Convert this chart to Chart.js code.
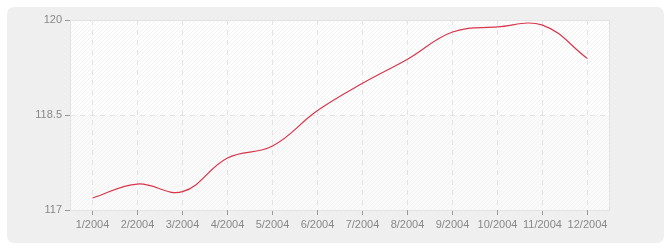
<!DOCTYPE html>
<html>
<head>
<meta charset="utf-8">
<script src="https://cdn.jsdelivr.net/npm/chart.js@4.4.0/dist/chart.umd.min.js"></script>
<style>
  html, body { margin: 0; padding: 0; background: #fff; }
  #wrap { width: 670px; height: 250px; position: relative; }
</style>
</head>
<body>
<div id="wrap"><canvas id="chart" width="670" height="250"></canvas></div>
<script>
const months = ["1/2004", "2/2004", "3/2004", "4/2004", "5/2004", "6/2004",
                "7/2004", "8/2004", "9/2004", "10/2004", "11/2004", "12/2004"];
const values = [117.19, 117.41, 117.29, 117.82, 118.01, 118.57,
                119.0, 119.38, 119.81, 119.89, 119.92, 119.39];
const yTicks = [117, 118.5, 120];

// diagonal hatch used for the plot background
function hatch(bg, line) {
  const c = document.createElement("canvas");
  c.width = 4; c.height = 4;
  const g = c.getContext("2d");
  g.fillStyle = bg;
  g.fillRect(0, 0, 4, 4);
  g.strokeStyle = line;
  g.lineWidth = 1;
  g.beginPath();
  g.moveTo(0, 4); g.lineTo(4, 0);
  g.moveTo(-1, 1); g.lineTo(1, -1);
  g.moveTo(3, 5); g.lineTo(5, 3);
  g.stroke();
  return g.createPattern(c, "repeat");
}

const backdrop = {
  id: "backdrop",
  beforeDraw(chart) {
    const ctx = chart.ctx;
    const { left, right, top, bottom } = chart.chartArea;
    const y = chart.scales.y;
    ctx.save();
    // outer rounded panel
    ctx.fillStyle = "#efefef";
    ctx.beginPath();
    ctx.roundRect(7, 7, 657, 236, 7);
    ctx.fill();
    // bands
    const mid = y.getPixelForValue(118.5);
    ctx.fillStyle = hatch("#ffffff", "#f2f2f2");
    ctx.fillRect(left, top, right - left, mid - top);
    ctx.fillStyle = hatch("#fafafa", "#f3f3f3");
    ctx.fillRect(left, mid, right - left, bottom - mid);
    // plot frame
    ctx.strokeStyle = "#e2e2e2";
    ctx.lineWidth = 1;
    ctx.strokeRect(left + 0.5, top + 0.5, right - left - 1, bottom - top);
    ctx.restore();
  }
};

const tickFont = { family: "'Liberation Sans', Arial, sans-serif", size: 11 };

new Chart(document.getElementById("chart"), {
  type: "line",
  data: {
    labels: months,
    datasets: [{
      data: values,
      borderColor: "#d9364c",
      borderWidth: 1.2,
      pointRadius: 0,
      tension: 0.4,
      fill: false,
    }]
  },
  plugins: [backdrop],
  options: {
    responsive: false,
    animation: false,
    layout: { padding: { top: 20, right: 60, bottom: 0, left: 0 } },
    plugins: { legend: { display: false }, tooltip: { enabled: false } },
    scales: {
      x: {
        offset: true,
        grid: { offset: false, color: "#e3e3e3", tickColor: "#999", tickLength: 5, tickBorderDash: [] },
        border: { display: false, dash: [5, 5] },
        ticks: { color: "#888", font: tickFont, padding: 3, maxRotation: 0, autoSkip: false },
        afterFit(axis) { axis.height = 40; }
      },
      y: {
        min: 117,
        max: 120,
        afterBuildTicks(axis) { axis.ticks = yTicks.map(v => ({ value: v })); },
        grid: { color: "#e3e3e3", tickColor: "#999", tickLength: 5, tickBorderDash: [] },
        border: { display: false, dash: [5, 5] },
        ticks: { color: "#888", font: tickFont, padding: 3 },
        afterFit(axis) { axis.width = 70; }
      }
    }
  }
});
</script>
</body>
</html>
